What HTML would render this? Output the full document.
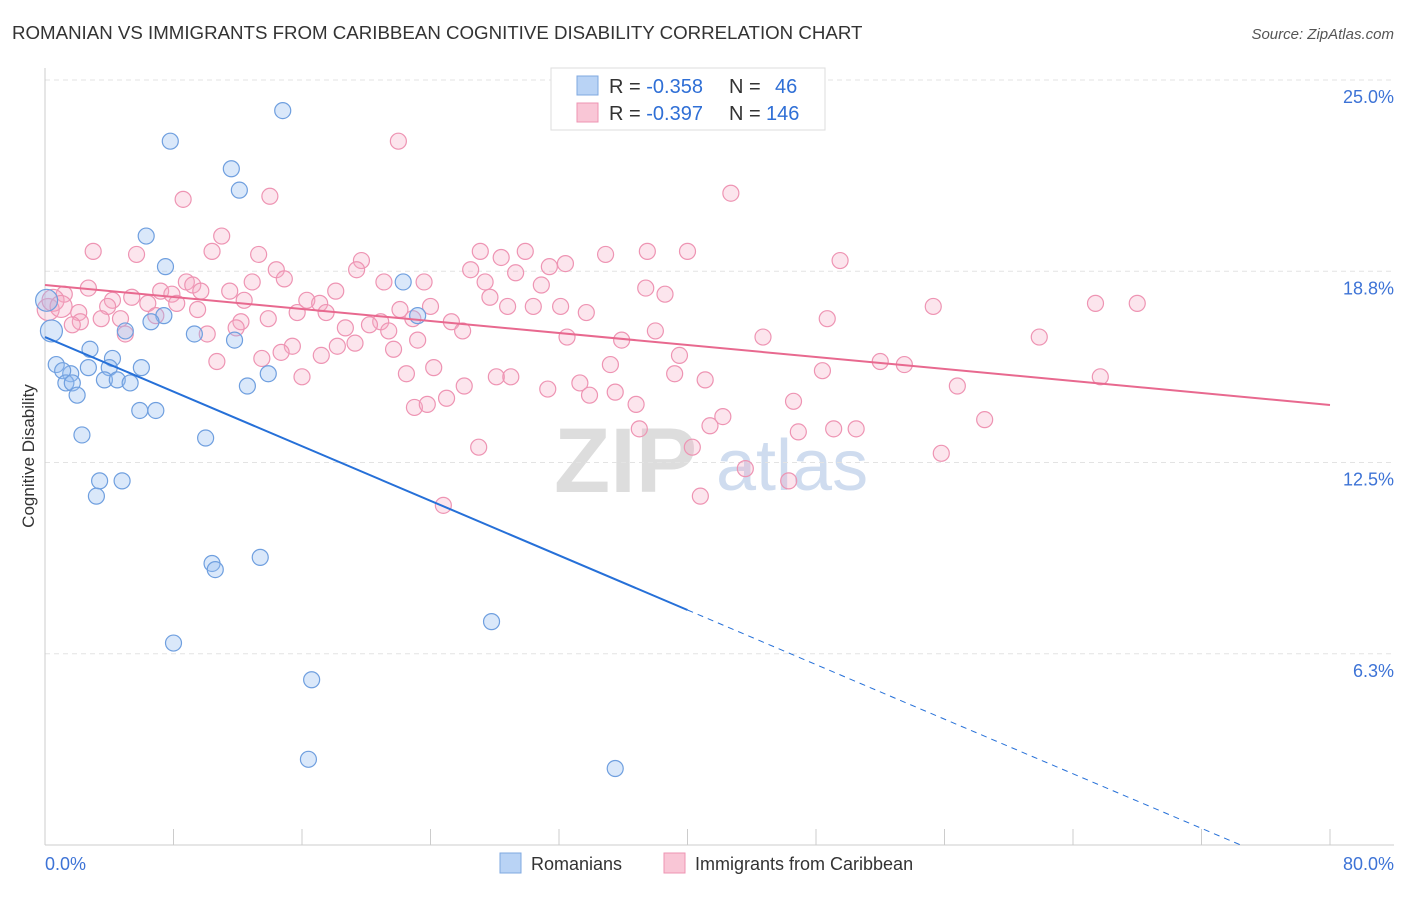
<!DOCTYPE html>
<html><head><meta charset="utf-8"><style>
body{margin:0;background:#fff;font-family:"Liberation Sans",sans-serif;}
svg text{font-family:"Liberation Sans",sans-serif;}
</style></head><body>
<svg id="chart" width="1406" height="892">
<text x="12" y="39" font-size="18.7" fill="#333">ROMANIAN VS IMMIGRANTS FROM CARIBBEAN COGNITIVE DISABILITY CORRELATION CHART</text>
<text x="1394" y="39" font-size="15" fill="#555" font-style="italic" text-anchor="end">Source: ZipAtlas.com</text>
<text transform="translate(34,456) rotate(-90)" font-size="17" fill="#333" text-anchor="middle">Cognitive Disability</text>
<g><text x="554" y="492" font-size="92" fill="#ddd" font-family="Liberation Serif" font-weight="bold">ZIP</text><text x="716" y="490" font-size="72" fill="#cfdcef">atlas</text></g>
<g id="grid"></g><g id="axes"></g><g id="pts"></g><g id="lines"></g>
<g>
<rect x="551" y="68" width="274" height="62" fill="#fff" stroke="#ddd"/>
<rect x="577" y="76" width="21" height="19" fill="#b9d3f5" stroke="#7fa8e0"/>
<rect x="577" y="103" width="21" height="19" fill="#f9c6d6" stroke="#ee94b3"/>
<text x="609" y="93" font-size="20" fill="#333">R = <tspan fill="#2f6fd6">-0.358</tspan></text>
<text x="729" y="93" font-size="20" fill="#333">N = </text><text x="775" y="93" font-size="20" fill="#2f6fd6">46</text>
<text x="609" y="120" font-size="20" fill="#333">R = <tspan fill="#2f6fd6">-0.397</tspan></text>
<text x="729" y="120" font-size="20" fill="#333">N = </text><text x="766" y="120" font-size="20" fill="#2f6fd6">146</text>
</g>
<g>
<rect x="500" y="853" width="21" height="20" fill="#b9d3f5" stroke="#7fa8e0"/>
<text x="531" y="870" font-size="18" fill="#333">Romanians</text>
<rect x="664" y="853" width="21" height="20" fill="#f9c6d6" stroke="#ee94b3"/>
<text x="695" y="870" font-size="18" fill="#333">Immigrants from Caribbean</text>
</g>
</svg>
<script>
const yTicks=[25,18.75,12.5,6.25];
const yTickLabels=["25.0%","18.8%","12.5%","6.3%"];
const xMin=0,xMax=80,yMin=0,yMax=25;
const blueX=[14.8,7.8,11.6,12.1,6.3,7.5,22.3,23.2,7.4,6.6,5.0,9.3,11.8,2.8,0.7,2.7,4.2,4.0,6.0,1.6,1.1,1.3,1.7,3.7,4.5,5.3,2.0,13.9,12.6,5.9,6.9,2.3,10.0,3.4,4.8,3.2,10.4,10.6,13.4,27.8,8.0,16.6,16.4,35.5,0.4,0.1];
const blueY=[24.0,23.0,22.1,21.4,19.9,18.9,18.4,17.3,17.3,17.1,16.8,16.7,16.5,16.2,15.7,15.6,15.9,15.6,15.6,15.4,15.5,15.1,15.1,15.2,15.2,15.1,14.7,15.4,15.0,14.2,14.2,13.4,13.3,11.9,11.9,11.4,9.2,9.0,9.4,7.3,6.6,5.4,2.8,2.5,16.8,17.8];
const pinkX=[22.0,42.7,8.6,14.0,11.0,10.4,3.0,5.7,13.3,37.5,40.0,34.9,27.1,29.9,19.7,28.4,31.4,32.4,49.5,14.4,19.4,26.5,29.3,14.9,8.8,9.2,21.1,23.6,27.4,30.9,2.7,7.2,7.9,9.7,11.5,12.9,18.1,37.4,38.6,27.7,16.3,17.1,5.4,4.2,1.2,3.9,6.4,8.2,9.5,12.4,22.1,24.0,28.8,30.4,32.1,33.7,65.4,68.0,55.3,48.7,15.7,17.5,2.1,2.2,3.5,4.7,6.9,12.2,13.9,20.9,22.9,25.3,18.7,20.2,21.4,26.0,32.5,35.9,38.0,44.7,61.9,1.7,5.0,10.1,11.9,15.4,14.7,13.5,10.7,17.2,18.2,19.3,21.7,23.2,35.2,39.5,52.0,53.5,22.5,24.2,28.1,29.0,39.2,41.1,48.4,65.7,16.0,26.1,31.3,33.3,33.9,35.5,56.8,23.0,23.8,25.0,36.8,46.6,58.5,42.2,41.4,37.0,46.9,49.1,50.5,27.0,40.3,55.8,43.6,46.3,40.8,24.8,0.2,0.5,1.0];
const pinkY=[23.0,21.3,21.1,21.2,19.9,19.4,19.4,19.3,19.3,19.4,19.4,19.3,19.4,19.4,19.1,19.2,18.9,19.0,19.1,18.8,18.8,18.8,18.7,18.5,18.4,18.3,18.4,18.4,18.4,18.3,18.2,18.1,18.0,18.1,18.1,18.4,18.1,18.2,18.0,17.9,17.8,17.7,17.9,17.8,18.0,17.6,17.7,17.7,17.5,17.8,17.5,17.6,17.6,17.6,17.6,17.4,17.7,17.7,17.6,17.2,17.4,17.4,17.4,17.1,17.2,17.2,17.3,17.1,17.2,17.1,17.2,17.1,16.9,17.0,16.8,16.8,16.6,16.5,16.8,16.6,16.6,17.0,16.7,16.7,16.9,16.3,16.1,15.9,15.8,16.0,16.3,16.4,16.2,16.5,15.7,16.0,15.8,15.7,15.4,15.6,15.3,15.3,15.4,15.2,15.5,15.3,15.3,15.0,14.9,15.1,14.7,14.8,15.0,14.3,14.4,14.6,14.4,14.5,13.9,14.0,13.7,13.6,13.5,13.6,13.6,13.0,13.0,12.8,12.3,11.9,11.4,11.1,17.5,17.8,17.6];
const blueFit=[16.6,-0.223];
const pinkFit=[18.3,-0.049];
const L=45,R=1330,T=80,B=845;
const sx=v=>L+(v-xMin)/(xMax-xMin)*(R-L);
const sy=v=>B-(v-yMin)/(yMax-yMin)*(B-T);
const NS="http://www.w3.org/2000/svg";
function mk(tag,attrs,parent){const e=document.createElementNS(NS,tag);for(const k in attrs)e.setAttribute(k,attrs[k]);parent.appendChild(e);return e;}
const grid=document.getElementById('grid'),axes=document.getElementById('axes'),pts=document.getElementById('pts'),lines=document.getElementById('lines');
yTicks.forEach((t,i)=>{
 const g=mk('line',{x1:L,x2:1394,y1:sy(t),y2:sy(t),stroke:'#e3e3e3','stroke-dasharray':'5,4'},grid);
 
 
 const tx=mk('text',{x:1394,y:sy(t)+23,'font-size':18,fill:'#3d73d6','text-anchor':'end'},axes);
 tx.textContent=yTickLabels[i];
 
 
});
const ax=mk('line',{x1:L,x2:L,y1:68,y2:B,stroke:'#ccc'},axes);


const bx=mk('line',{x1:L,x2:1394,y1:B,y2:B,stroke:'#ccc'},axes);


for(let v=0;v<=80;v+=8){const t=mk('line',{x1:sx(v),x2:sx(v),y1:B,y2:B-16,stroke:'#ccc'},axes);
 
 }
[[0,"0.0%",'start',45],[80,"80.0%",'end',1394]].forEach(a=>{const t=mk('text',{x:a[3],y:870,'font-size':18,fill:'#3d73d6','text-anchor':a[2]},axes);t.textContent=a[1];
 
 });
pinkX.forEach((x,i)=>{const c=mk('circle',{cx:sx(x),cy:sy(pinkY[i]),r:i>=pinkX.length-3?11:8,fill:'rgba(246,170,196,0.3)',stroke:'#ee94b3','stroke-width':1.2},pts);
 
 });
blueX.forEach((x,i)=>{const c=mk('circle',{cx:sx(x),cy:sy(blueY[i]),r:i>=blueX.length-2?11:8,fill:'rgba(150,190,240,0.35)',stroke:'#6f9fdf','stroke-width':1.2},pts);
 
 });
const bY=x=>blueFit[0]+blueFit[1]*x;
let l1=mk('line',{x1:sx(0),y1:sy(bY(0)),x2:sx(40),y2:sy(bY(40)),stroke:'#2670d8','stroke-width':2},lines);


let l2=mk('line',{x1:sx(40),y1:sy(bY(40)),x2:sx(74.4),y2:sy(bY(74.4)),stroke:'#2670d8','stroke-width':1,'stroke-dasharray':'6,5'},lines);


const pY=x=>pinkFit[0]+pinkFit[1]*x;
let l3=mk('line',{x1:sx(0),y1:sy(pY(0)),x2:sx(80),y2:sy(pY(80)),stroke:'#e8698f','stroke-width':2},lines);


</script>
</body></html>
